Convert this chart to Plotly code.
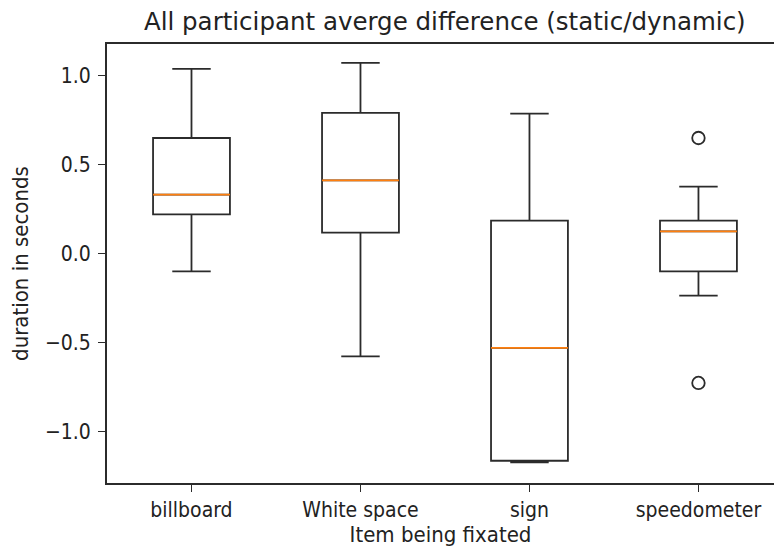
import plotly.graph_objects as go

# Summary statistics of the per-participant average difference (static - dynamic)
categories = ["billboard", "White space", "sign", "speedometer"]
positions = [1, 2, 3, 4]
upper_whisker = [1.036, 1.070, 0.785, 0.375]
q3 = [0.648, 0.789, 0.184, 0.184]
median = [0.330, 0.410, -0.531, 0.124]
q1 = [0.219, 0.116, -1.165, -0.101]
lower_whisker = [-0.101, -0.579, -1.174, -0.238]
outlier_x = [4, 4]
outlier_y = [0.648, -0.728]

box_width = 0.455
font_family = "DejaVu Sans Condensed, DejaVu Sans, sans-serif"
title_family = "DejaVu Sans, sans-serif"
ink = "#2b2b2b"

fig = go.Figure()

fig.add_trace(go.Box(
    x=positions,
    q1=q1, median=median, q3=q3,
    lowerfence=lower_whisker, upperfence=upper_whisker,
    width=box_width,
    whiskerwidth=0.5,
    fillcolor="rgba(0,0,0,0)",
    line=dict(color=ink, width=1.8),
    boxpoints=False,
    hoverinfo="skip",
    showlegend=False,
))

# Orange median lines across each box
for p, m in zip(positions, median):
    fig.add_trace(go.Scatter(
        x=[p - box_width / 2, p + box_width / 2], y=[m, m],
        mode="lines", line=dict(color="#ff7f0e", width=1.8),
        hoverinfo="skip", showlegend=False,
    ))

# Fliers
fig.add_trace(go.Scatter(
    x=outlier_x, y=outlier_y, mode="markers",
    marker=dict(symbol="circle-open", size=12.5, color=ink, line=dict(width=1.8)),
    hoverinfo="skip", showlegend=False,
))

fig.update_layout(
    width=774, height=547,
    margin=dict(l=107, r=0, t=44, b=64),
    paper_bgcolor="white", plot_bgcolor="white",
    font=dict(family=font_family, color="#222", size=21),
    title=dict(
        text="All participant averge difference (static/dynamic)",
        x=444.8 / 774, xref="container", xanchor="center",
        y=1 - 21 / 547, yref="container", yanchor="middle",
        font=dict(size=24.5, family=title_family, color="#222"),
    ),
    xaxis=dict(
        range=[0.5, 4.447],
        tickmode="array", tickvals=positions, ticktext=categories,
        showline=True, linecolor=ink, linewidth=1.8, mirror=True,
        ticks="outside", ticklen=7, tickcolor=ink, tickwidth=1.3,
        showgrid=False, zeroline=False,
        title=dict(text="Item being fixated", font=dict(size=22), standoff=6),
        tickfont=dict(size=21),
    ),
    yaxis=dict(
        range=[-1.290, 1.176],
        tickmode="array", tickvals=[-1.0, -0.5, 0.0, 0.5, 1.0],
        ticktext=["\u22121.0", "\u22120.5", "0.0", "0.5", "1.0"],
        showline=True, linecolor=ink, linewidth=1.8, mirror=False,
        ticks="outside", ticklen=7, tickcolor=ink, tickwidth=1.3,
        ticklabelstandoff=3,
        showgrid=False, zeroline=False,
        title=dict(text="duration in seconds", font=dict(size=22), standoff=10),
        tickfont=dict(size=21),
    ),
)

fig.write_html("out.html")
